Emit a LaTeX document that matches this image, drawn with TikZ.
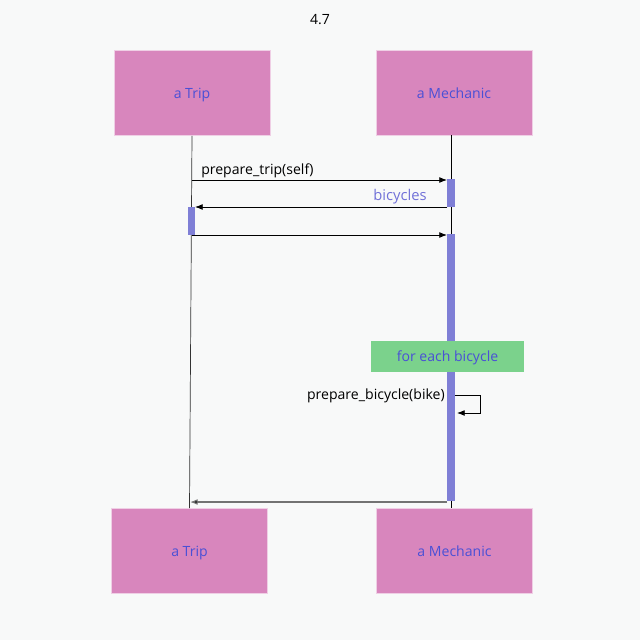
\documentclass[tikz,border=0pt]{standalone}
\usepackage{fontspec}
\setmainfont{Open Sans}
\usetikzlibrary{positioning,arrows.meta}
\definecolor{bgcol}{HTML}{F8F9F9}
\definecolor{boxpink}{HTML}{D886BD}
\definecolor{txtblue}{HTML}{4A50D6}
\definecolor{barcol}{HTML}{7F7FD6}
\definecolor{loopgreen}{HTML}{7BD28C}
\definecolor{retcol}{HTML}{7171D8}

\begin{document}
\begin{tikzpicture}[>={Latex[length=5.5pt,width=4.2pt]},x=0.025cm,y=-0.025cm,font=\fontsize{10}{12}\selectfont,
    actor/.style={fill=boxpink,draw=boxpink!40!white,line width=0.4pt,minimum width=3.9cm,minimum height=2.125cm,text=txtblue,inner sep=0pt,text height=1.6ex,text depth=0.2ex},
    bar/.style={fill=barcol,draw=none},
    msg/.style={->,line width=0.6pt}]
    \fill[bgcol](0,0)rectangle(640,640);
    \node at(320,20)(title){4.7};
    % participants
    \node[actor]at(192,93)(trip){a Trip};
    \node[actor]at(454,93)(mech){a Mechanic};
    \node[actor]at(189.5,551)(tripb){a Trip};
    \node[actor]at(454.5,551)(mechb){a Mechanic};
    % lifelines
    \coordinate(mtop)at(451,135);
    \coordinate(mbot)at(451,508);
    \draw[line width=0.5pt,draw=black!80](trip.south)--(tripb.north);
    \draw[line width=0.5pt](mtop)--(mbot);
    % activations
    \fill[bar](447,179)rectangle(455,207);
    \fill[bar](188,207)rectangle(195,235);
    \fill[bar](447,234)rectangle(455,501);
    % messages
    \coordinate(a1)at(192,180);\coordinate(b1)at(447,180);
    \draw[msg](a1)--(b1);
    \node[anchor=base west,inner sep=0pt]at(201,174)(m1){prepare\_trip(self)};
    \coordinate(a2)at(447,207);\coordinate(b2)at(195,207);
    \draw[msg](a2)--(b2);
    \node[anchor=base east,inner sep=0pt,text=retcol,font=\fontsize{10.5}{12}\selectfont]at(427,200)(m2){bicycles};
    \coordinate(a3)at(192,235);\coordinate(b3)at(447,235);
    \draw[msg](a3)--(b3);
    % loop
    \node[fill=loopgreen,minimum width=3.825cm,minimum height=0.775cm,text=txtblue,inner sep=0pt,text height=1.6ex,text depth=0.2ex]at(447.5,356.5)(loop){for each bicycle};
    \coordinate(s1)at(455,395);\coordinate(s2)at(457,413);
    \draw[msg](s1)-|(480,413)--(s2);
    \node[anchor=base east,inner sep=0pt]at(445,399)(m3){prepare\_bicycle(bike)};
    % return
    \coordinate(a4)at(447,502);\coordinate(b4)at(190,502);
    \draw[msg,draw=black!55,line width=0.8pt,-{Latex[length=5.5pt,width=4.2pt,fill=black]}](a4)--(b4);
\end{tikzpicture}
\end{document}
